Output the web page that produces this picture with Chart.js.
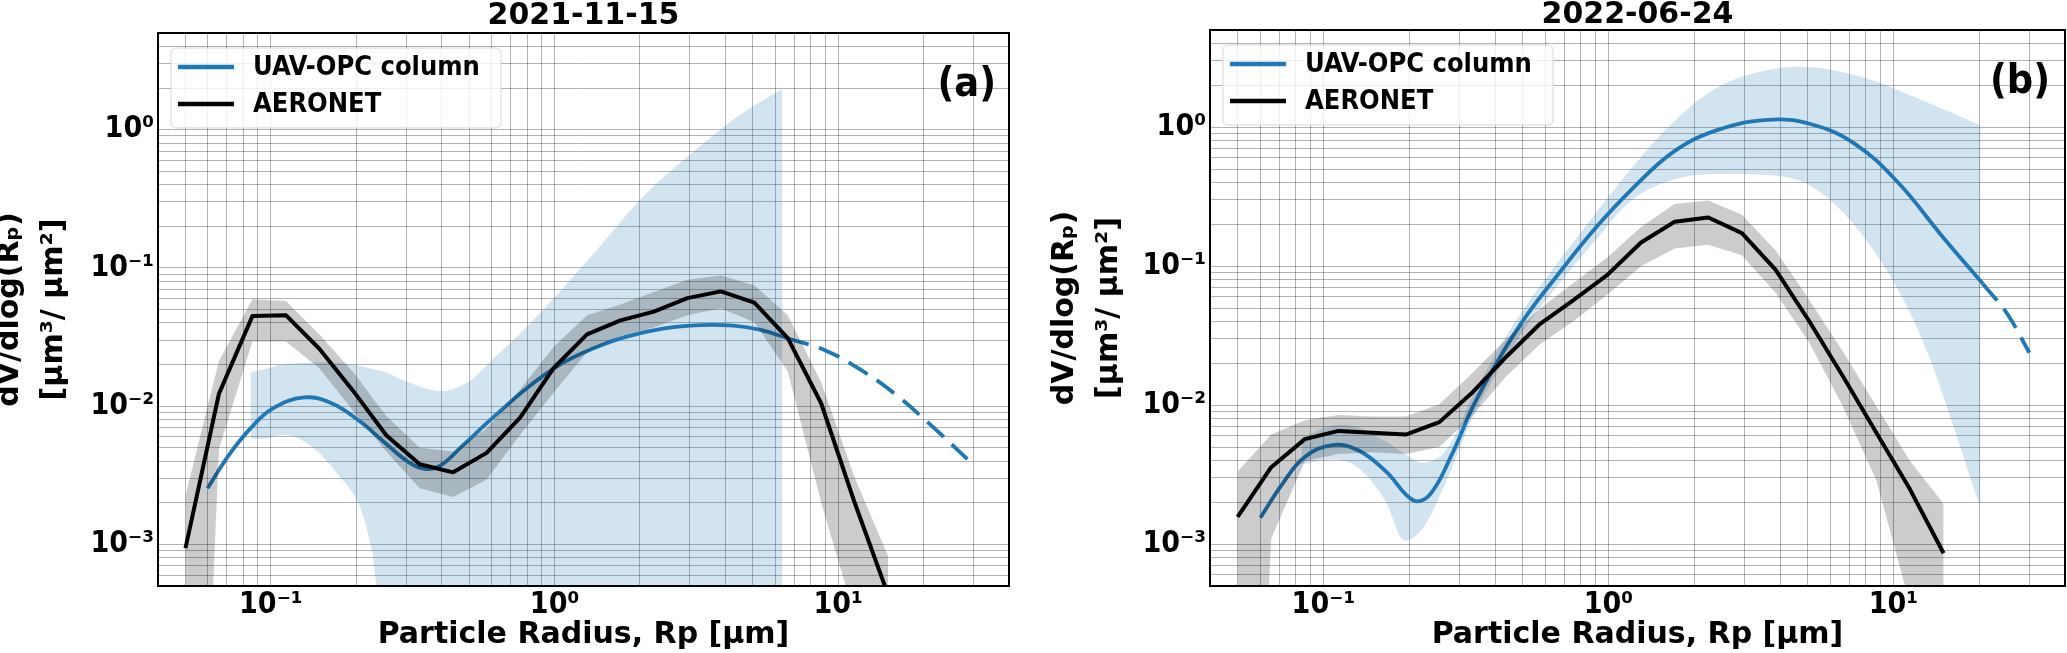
<!DOCTYPE html>
<html>
<head>
<meta charset="utf-8">
<script src="https://cdn.jsdelivr.net/npm/chart.js@4.4.1/dist/chart.umd.min.js"></script>
<style>
  html, body { margin: 0; padding: 0; background: #fff; }
  #wrap { position: relative; width: 2067px; height: 653px; }
  .panel { position: absolute; top: 0; height: 653px; }
</style>
</head>
<body>
<div id="wrap">
  <div class="panel" style="left:0;width:1030px"><canvas id="chartA" width="1030" height="653"></canvas></div>
  <div class="panel" style="left:1030px;width:1037px"><canvas id="chartB" width="1037" height="653"></canvas></div>
</div>
<script>
// AERONET inversion radius bins (µm), shared by both days
const aeroR = [0.05, 0.065604, 0.086077, 0.112939, 0.148184, 0.194429, 0.255105, 0.334716,
  0.439173, 0.576227, 0.756052, 0.991996, 1.301571, 1.707757, 2.240702, 2.939966,
  3.857452, 5.06126, 6.640745, 8.713145, 11.432287, 15.0];

// ---- 2021-11-15 ----
const aeroA   = [9.4e-4, 0.0123, 0.0448, 0.0455, 0.026, 0.013, 0.00616, 0.0038, 0.00332, 0.00459, 0.00826,
  0.01884, 0.033, 0.0417, 0.0483, 0.0604, 0.0676, 0.056, 0.031, 0.01045, 0.0020, 4.3e-4];
const aeroAUp = [0.00226, 0.0212, 0.0593, 0.0576, 0.033, 0.0178, 0.0085, 0.005, 0.0047, 0.0069, 0.0132,
  0.0268, 0.0455, 0.0543, 0.0668, 0.082, 0.088, 0.075, 0.0455, 0.0149, 0.00304, 8.2e-4];
const aeroALo = [1e-8, 0.0049, 0.0293, 0.0293, 0.0188, 0.0093, 0.0047, 0.00255, 0.0022, 0.00295, 0.0062,
  0.0125, 0.0245, 0.032, 0.037, 0.0455, 0.051, 0.0405, 0.0178, 0.002, 3e-4, 1e-8];

const opcRA = [0.0598, 0.0713, 0.0849, 0.1013, 0.131, 0.1644, 0.205, 0.2553, 0.3046, 0.3475, 0.3966,
  0.473, 0.6156, 0.802, 1.044, 1.36, 1.77, 2.41, 3.28, 4.27, 5.32, 6.63];
const opcA  = [0.00255, 0.00446, 0.00693, 0.00958, 0.01156, 0.01045, 0.0078, 0.00532, 0.00396, 0.00352, 0.00373,
  0.00516, 0.0085, 0.0136, 0.02, 0.026, 0.0316, 0.0364, 0.0386, 0.0382, 0.0356, 0.031];
const opcDashRA = [6.63, 9.02, 12.27, 15.97, 20.8, 29.6];
const opcDashA  = [0.031, 0.0253, 0.0178, 0.0121, 0.00757, 0.00385];

const bandRA   = [0.085, 0.093, 0.111, 0.138, 0.172, 0.205, 0.222, 0.234, 0.255, 0.305, 0.397, 0.494,
  0.616, 0.876, 1.36, 2.11, 3.28, 4.66, 6.35];
const bandAUp  = [0.0175, 0.0183, 0.02, 0.0206, 0.0206, 0.0195, 0.0189, 0.0183, 0.0175, 0.0149, 0.01285, 0.0149,
  0.0225, 0.0455, 0.124, 0.347, 0.767, 1.34, 1.97];
const bandALo  = [0.0058, 0.0058, 0.0062, 0.00516, 0.00323, 0.0019, 0.0011, 5.5e-4, 1e-5, 1e-8, 1e-8, 1e-8,
  1e-8, 1e-8, 1e-8, 1e-8, 1e-8, 1e-8, 1e-8];

// ---- 2022-06-24 ----
const aeroB   = [0.00157, 0.00358, 0.0057, 0.00653, 0.00634, 0.00615, 0.00755, 0.01245, 0.0224, 0.0385, 0.0573,
  0.0865, 0.148, 0.2085, 0.224, 0.173, 0.0944, 0.0403, 0.0162, 0.00634, 0.00248, 8.6e-4];
const aeroBUp = [0.00333, 0.00615, 0.00778, 0.0085, 0.0083, 0.0083, 0.01014, 0.0172, 0.03, 0.0495, 0.076,
  0.116, 0.191, 0.28, 0.297, 0.234, 0.13, 0.0573, 0.0244, 0.00984, 0.00396, 0.00195];
const aeroBLo = [1e-8, 0.0011, 0.00396, 0.00446, 0.00459, 0.00446, 0.00501, 0.0085, 0.0162, 0.0275, 0.0403,
  0.0626, 0.1, 0.134, 0.1426, 0.12, 0.0645, 0.0283, 0.00984, 0.00287, 3.7e-4, 1e-8];

const opcRB = [0.0601, 0.0717, 0.0856, 0.1077, 0.133, 0.166, 0.2065, 0.2358, 0.281, 0.3354, 0.418,
  0.521, 0.6785, 0.884, 1.2025, 1.71, 2.434, 3.62, 5.15, 7.32, 10.4, 14.8, 20.6];
const opcB  = [0.00155, 0.0027, 0.0042, 0.00516, 0.00472, 0.00332, 0.00207, 0.00226, 0.00433, 0.00984, 0.0224,
  0.0453, 0.0916, 0.18, 0.354, 0.675, 0.96, 1.13, 1.05, 0.759, 0.398, 0.165, 0.0746];
const opcDashRB = [20.6, 25.1, 30.0];
const opcDashB  = [0.0746, 0.0453, 0.0238];

const bandRB  = [0.0837, 0.1076, 0.133, 0.1656, 0.193, 0.2255, 0.269, 0.335, 0.418, 0.521, 0.6785,
  0.884, 1.2025, 1.71, 2.434, 3.62, 5.15, 8.0, 12.43, 20.2];
const bandBUp = [0.0058, 0.00713, 0.00692, 0.00547, 0.00446, 0.00385, 0.00472, 0.01175, 0.0267, 0.054, 0.1127,
  0.228, 0.503, 1.112, 1.943, 2.576, 2.7, 2.25, 1.582, 1.03];
const bandBLo = [0.00374, 0.00408, 0.00352, 0.00202, 0.00106, 0.00134, 0.0028, 0.00826, 0.0188, 0.038, 0.0769,
  0.1466, 0.2966, 0.422, 0.461, 0.453, 0.3753, 0.1555, 0.0319, 0.00185];

// axes
const xRange = [0.04, 40];
const yRange = [5e-4, 5];
const titles = ['2021-11-15', '2022-06-24'];
const tags = ['(a)', '(b)'];
const xTitle = 'Particle Radius, Rp [µm]';
const yTitle = ['dV/dlog(Rₚ)', '[µm³/ µm²]'];

const BLUE = '#1f77b4';
const BOLD = '"DejaVu Sans", sans-serif';
const COND = '"DejaVu Sans Condensed", "DejaVu Sans", sans-serif';

const SUP = {'-': '⁻', '0': '⁰', '1': '¹', '2': '²', '3': '³', '4': '⁴', '5': '⁵', '6': '⁶', '7': '⁷', '8': '⁸', '9': '⁹'};
function powLabel(v) {
  const e = Math.round(Math.log10(v));
  if (Math.abs(v / Math.pow(10, e) - 1) > 1e-6) return '';
  return '10' + String(e).split('').map(c => SUP[c]).join('');
}
// 1..9 x 10^n grid lines (matplotlib "both" grid)
function logTicks(min, max) {
  const out = [];
  for (let e = Math.floor(Math.log10(min)); e <= Math.ceil(Math.log10(max)); e++) {
    for (let k = 1; k < 10; k++) {
      const v = k * Math.pow(10, e);
      if (v >= min * 0.999 && v <= max * 1.001) out.push({ value: v });
    }
  }
  return out;
}
const pts = (xs, ys) => xs.map((x, i) => ({ x: x, y: ys[i] }));

const framePlugin = {
  id: 'frame',
  afterDatasetsDraw(chart) {
    const { ctx, chartArea: a } = chart;
    ctx.save();
    ctx.strokeStyle = '#000';
    ctx.lineWidth = 2;
    ctx.strokeRect(a.left, a.top, a.right - a.left, a.bottom - a.top);
    ctx.restore();
  }
};

const legendPlugin = {
  id: 'boxLegend',
  afterDraw(chart, args, opts) {
    const { ctx, chartArea: a } = chart;
    const items = chart.data.datasets.filter(d => d.inLegend);
    ctx.save();
    ctx.beginPath();
    ctx.roundRect(a.left + 13, a.top + 15, 330, 80, 5);
    ctx.fillStyle = 'rgba(255,255,255,0.8)';
    ctx.fill();
    ctx.strokeStyle = 'rgba(204,204,204,0.8)';
    ctx.lineWidth = 1;
    ctx.stroke();
    ctx.font = 'bold 27px ' + COND;
    ctx.textBaseline = 'middle';
    items.forEach((d, i) => {
      const ly = a.top + 34 + i * 37;
      ctx.strokeStyle = d.borderColor;
      ctx.lineWidth = 4.5;
      ctx.beginPath();
      ctx.moveTo(a.left + 20, ly);
      ctx.lineTo(a.left + 76, ly);
      ctx.stroke();
      ctx.fillStyle = '#000';
      ctx.fillText(d.label, a.left + 95, ly + 1);
    });
    ctx.font = 'bold 41px ' + COND;
    ctx.textAlign = 'right';
    ctx.fillText(opts.tag, a.right - opts.tagDx, a.top + 52);
    ctx.restore();
  }
};

function makeChart(id, p) {
  return new Chart(document.getElementById(id), {
    type: 'line',
    data: {
      datasets: [
        { label: 'band up', data: pts(p.bandR, p.bandUp), fill: '+1', backgroundColor: 'rgba(31,119,180,0.2)',
          borderWidth: 0, pointRadius: 0, tension: 0.35, order: 4, clip: 0 },
        { label: 'band lo', data: pts(p.bandR, p.bandLo), fill: false, borderWidth: 0, pointRadius: 0,
          cubicInterpolationMode: 'monotone', order: 4, clip: 0 },
        { label: 'UAV-OPC column', inLegend: true, data: pts(p.opcR, p.opc), borderColor: BLUE, borderWidth: 3.8,
          pointRadius: 0, tension: 0.4, fill: false, order: 3, clip: 0 },
        { label: 'UAV-OPC extrapolated', data: pts(p.dashR, p.dash), borderColor: BLUE, borderWidth: 3.8,
          borderDash: [22, 11], pointRadius: 0, tension: 0.4, fill: false, order: 3, clip: 0 },
        { label: 'aero up', data: pts(aeroR, p.aeroUp), fill: '+1', backgroundColor: 'rgba(0,0,0,0.2)',
          borderWidth: 0, pointRadius: 0, tension: 0, order: 2, clip: 0 },
        { label: 'aero lo', data: pts(aeroR, p.aeroLo), fill: false, borderWidth: 0, pointRadius: 0,
          tension: 0, order: 2, clip: 0 },
        { label: 'AERONET', inLegend: true, data: pts(aeroR, p.aero), borderColor: '#000', borderWidth: 4,
          borderJoinStyle: 'round', pointRadius: 0, tension: 0, fill: false, order: 1, clip: 0 }
      ]
    },
    options: {
      responsive: false,
      animation: false,
      events: [],
      layout: { padding: { left: 0, right: p.padRight, top: 0, bottom: 0 } },
      plugins: {
        legend: { display: false },
        tooltip: { enabled: false },
        title: {
          display: true, text: p.title, fullSize: false, color: '#000',
          font: { family: BOLD, size: 30, weight: 'bold', lineHeight: 1 },
          padding: { top: p.titleTop, bottom: p.titleBottom }
        },
        boxLegend: { tag: p.tag, tagDx: p.tagDx }
      },
      scales: {
        x: {
          type: 'logarithmic', min: xRange[0], max: xRange[1],
          afterBuildTicks: s => { s.ticks = logTicks(s.min, s.max); },
          afterFit: s => { s.height = 67; },
          grid: { color: 'rgba(0,0,0,0.3)', lineWidth: 1, drawTicks: false },
          border: { display: false },
          ticks: { autoSkip: false, maxRotation: 0, minRotation: 0, padding: 1, color: '#000',
            font: { family: COND, size: 30, weight: 'bold' }, callback: v => powLabel(v) },
          title: { display: true, text: xTitle, color: '#000',
            font: { family: BOLD, size: 30, weight: 'bold', lineHeight: 1.2 }, padding: { top: 0, bottom: 0 } }
        },
        y: {
          type: 'logarithmic', min: yRange[0], max: yRange[1],
          afterBuildTicks: s => { s.ticks = logTicks(s.min, s.max); },
          afterFit: s => { s.width = p.yWidth; },
          grid: { color: 'rgba(0,0,0,0.3)', lineWidth: 1, drawTicks: false },
          border: { display: false },
          ticks: { autoSkip: false, padding: 4, color: '#000',
            font: { family: COND, size: 30, weight: 'bold' }, callback: v => powLabel(v) },
          title: { display: true, text: yTitle, color: '#000',
            font: { family: BOLD, size: 30, weight: 'bold', lineHeight: 1.47 },
            padding: { top: p.yTitlePad, bottom: 0 } }
        }
      }
    },
    plugins: [framePlugin, legendPlugin]
  });
}

makeChart('chartA', {
  title: titles[0], tag: tags[0], tagDx: 13, padRight: 21, yWidth: 158, yTitlePad: -12,
  titleTop: 1.5, titleBottom: 1.5,
  aero: aeroA, aeroUp: aeroAUp, aeroLo: aeroALo,
  opcR: opcRA, opc: opcA, dashR: opcDashRA, dash: opcDashA,
  bandR: bandRA, bandUp: bandAUp, bandLo: bandALo
});
makeChart('chartB', {
  title: titles[1], tag: tags[1], tagDx: 15, padRight: 2, yWidth: 180, yTitlePad: 13,
  titleTop: 0, titleBottom: 0,
  aero: aeroB, aeroUp: aeroBUp, aeroLo: aeroBLo,
  opcR: opcRB, opc: opcB, dashR: opcDashRB, dash: opcDashB,
  bandR: bandRB, bandUp: bandBUp, bandLo: bandBLo
});
</script>
</body>
</html>
